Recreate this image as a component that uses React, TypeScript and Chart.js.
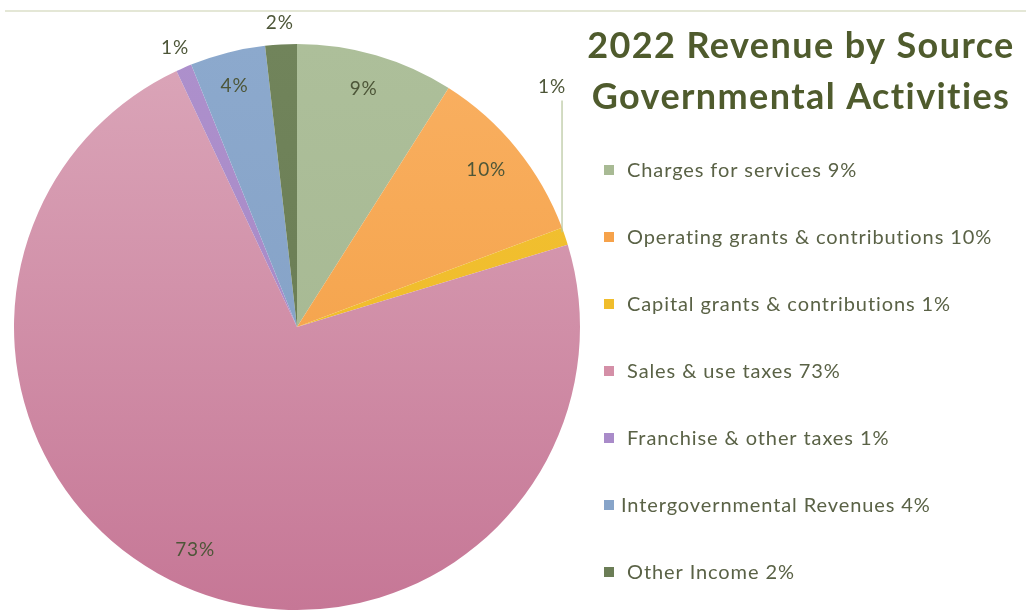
import React, { useEffect, useRef } from "react";
import { Chart, registerables } from "chart.js";

Chart.register(...registerables);

const categories = [
  " Charges for services",
  " Operating grants & contributions",
  " Capital grants & contributions",
  " Sales & use taxes",
  " Franchise & other taxes",
  "Intergovernmental Revenues",
  " Other Income",
];
const values = [9.0, 10.3, 1.0, 72.7, 0.9, 4.3, 1.8];
const labelModes = ["in", "in", "leader", "in", "out", "in", "out"];
const topColors = ["#adbf9a", "#f9b062", "#f2c234", "#dba6b9", "#ad90cc", "#8ca9cd", "#71845b"];
const bottomColors = ["#a3b58f", "#f29b3c", "#eeb824", "#c67796", "#a586c4", "#819ec3", "#667950"];
const legendColors = ["#a8ba94", "#f6a24a", "#f0bd2c", "#d48fa7", "#a98bc9", "#87a4c9", "#6b7d56"];
const titleLines = ["2022 Revenue by Source", "Governmental Activities"];

const FONT = "Lato, 'Open Sans', sans-serif";

const overlayPlugin = {
  id: "overlay",
  afterDatasetsDraw(chart: any) {
    const ctx = chart.ctx;
    const meta = chart.getDatasetMeta(0);
    ctx.save();
    // thin top rule
    ctx.strokeStyle = "#e4e7d6";
    ctx.lineWidth = 2;
    ctx.beginPath();
    ctx.moveTo(5, 11);
    ctx.lineTo(chart.width, 11);
    ctx.stroke();

    // data labels
    ctx.font = `19px ${FONT}`;
    (ctx as any).letterSpacing = "0.8px";
    ctx.fillStyle = "#4d5638";
    ctx.textAlign = "center";
    ctx.textBaseline = "middle";
    meta.data.forEach((arc: any, i: number) => {
      const p = arc.getProps(["x", "y", "startAngle", "endAngle", "outerRadius"], true);
      const mid = (p.startAngle + p.endAngle) / 2;
      const R = p.outerRadius;
      const txt = Math.round(values[i]) + "%";
      const mode = labelModes[i];
      if (mode === "in") {
        const r = R * 0.87;
        ctx.fillText(txt, p.x + Math.cos(mid) * r - 2, p.y + Math.sin(mid) * r - 2);
      } else if (mode === "out") {
        const r = R + 22;
        ctx.fillText(txt, p.x + Math.cos(mid) * r, p.y + Math.sin(mid) * r);
      } else {
        const lx = p.x + Math.cos(mid) * R;
        const ly = p.y + Math.sin(mid) * R;
        const topY = p.y - R * 0.8;
        ctx.strokeStyle = "#b5c49a";
        ctx.lineWidth = 1.2;
        ctx.beginPath();
        ctx.moveTo(lx - 3, ly - 4);
        ctx.lineTo(lx - 3, topY);
        ctx.stroke();
        ctx.fillText(txt, lx - 13, topY - 14);
      }
    });

    // title
    ctx.font = `bold 36px ${FONT}`;
    (ctx as any).letterSpacing = "1.4px";
    ctx.fillStyle = "#4f5b2d";
    ctx.textAlign = "center";
    ctx.textBaseline = "middle";
    const tx = 801;
    ctx.fillText(titleLines[0], tx, 46);
    ctx.fillText(titleLines[1], tx, 97);

    // legend
    ctx.font = `20px ${FONT}`;
    (ctx as any).letterSpacing = "0.9px";
    ctx.textAlign = "left";
    const startY = 170;
    const step = 67;
    categories.forEach((c, i) => {
      const y = startY + i * step;
      ctx.fillStyle = legendColors[i];
      ctx.fillRect(604, y - 5, 10, 10);
      ctx.fillStyle = "#5a6246";
      const txt = c + " " + Math.round(values[i]) + "%";
      ctx.fillText(txt, 621, y + 1);
    });
    ctx.restore();
  },
};

export default function App() {
  const ref = useRef<HTMLCanvasElement | null>(null);
  useEffect(() => {
    document.body.style.margin = "0";
    const canvas = ref.current!;
    const chart = new Chart(canvas, {
      type: "pie",
      data: {
        labels: categories,
        datasets: [
          {
            data: values,
            borderWidth: 0,
            backgroundColor: (ctx: any) => {
              const ch = ctx.chart;
              const area = ch.chartArea;
              const i = ctx.dataIndex;
              if (!area) return legendColors[i];
              const g = ch.ctx.createLinearGradient(0, area.top, 0, area.bottom);
              g.addColorStop(0, topColors[i]);
              g.addColorStop(1, bottomColors[i]);
              return g;
            },
          },
        ],
      },
      options: {
        responsive: true,
        maintainAspectRatio: false,
        animation: false,
        layout: { padding: { left: 14, top: 44, right: 446, bottom: 1 } },
        plugins: {
          legend: { display: false },
          title: { display: false },
          tooltip: { enabled: false },
        },
      },
      plugins: [overlayPlugin],
    });
    return () => chart.destroy();
  }, []);
  return (
    <div style={{ position: "absolute", left: 0, top: 0, width: 1026, height: 611, background: "#fff" }}>
      <canvas ref={ref} />
    </div>
  );
}
